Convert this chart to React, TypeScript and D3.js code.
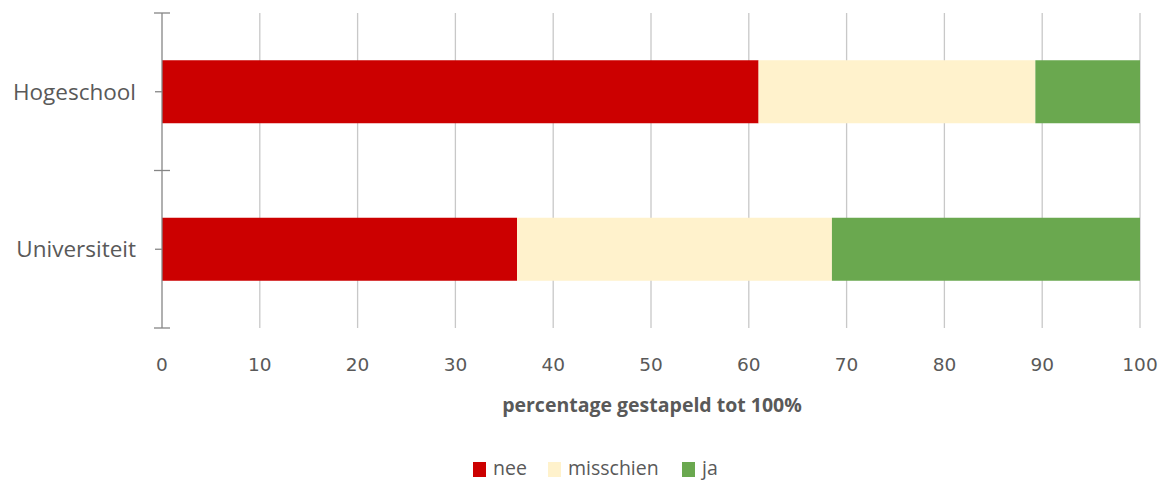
import React from "react";
import * as d3 from "d3";

const categories = ["Hogeschool", "Universiteit"];
const seriesNames = ["nee", "misschien", "ja"];
const nee = [61.0, 36.3];
const misschien = [28.3, 32.2];
const ja = [10.7, 31.5];
const xTicks = [0, 10, 20, 30, 40, 50, 60, 70, 80, 90, 100];
const colors = ["#CC0000", "#FFF2CC", "#6AA84F"];
const axisTitle = "percentage gestapeld tot 100%";

export default function App() {
  const W = 1165, H = 481;
  const x = d3.scaleLinear().domain([0, 100]).range([162, 1140]);
  const y = d3.scaleBand().domain(categories).range([13, 328]).paddingInner(0.6).paddingOuter(0.3);
  const rows = categories.map((c, i) => ({ cat: c, nee: nee[i], misschien: misschien[i], ja: ja[i] }));
  const stacked = d3.stack<any>().keys(seriesNames)(rows);
  const textColor = "#595959";
  const catBoundaries = [13, (13 + 328) / 2, 328];
  const legendX = [473, 548, 682];
  return (
    <svg width={W} height={H} style={{ position: "absolute", left: 0, top: 0 }}>
      {xTicks.slice(1).map((t) => (
        <line key={t} x1={x(t)} x2={x(t)} y1={13} y2={328} stroke="#C8C8C8" strokeWidth={1.3} />
      ))}
      {catBoundaries.map((v, i) => (
        <line key={"b" + i} x1={154} x2={170} y1={v} y2={v} stroke="#868686" strokeWidth={1.3} />
      ))}
      {categories.map((c) => (
        <line key={"t" + c} x1={155} x2={168} y1={y(c)! + y.bandwidth() / 2} y2={y(c)! + y.bandwidth() / 2} stroke="#868686" strokeWidth={1.3} />
      ))}
      {stacked.map((s, si) =>
        s.map((d, i) => (
          <rect key={si + "-" + i} x={x(d[0])} y={y(categories[i])} width={x(d[1]) - x(d[0])} height={y.bandwidth()} fill={colors[si]} />
        ))
      )}
      <line x1={162} x2={162} y1={13} y2={328} stroke="#868686" strokeWidth={1.3} />
      {categories.map((c) => (
        <text key={"l" + c} x={136} y={y(c)! + y.bandwidth() / 2} dy="0.36em" textAnchor="end" fontFamily="'Open Sans', sans-serif" fontSize={22.5} fill={textColor}>
          {c}
        </text>
      ))}
      {xTicks.map((t) => (
        <text key={"x" + t} x={x(t)} y={371} textAnchor="middle" fontFamily="'DejaVu Sans', sans-serif" fontSize={18.5} fill={textColor}>
          {t}
        </text>
      ))}
      <text x={652} y={412} textAnchor="middle" fontFamily="'Open Sans', sans-serif" fontWeight="bold" fontSize={19.5} fill={textColor}>
        {axisTitle}
      </text>
      {seriesNames.map((n, i) => (
        <g key={"lg" + n}>
          <rect x={legendX[i]} y={462} width={13} height={15} fill={colors[i]} />
          <text x={legendX[i] + 20} y={475} fontFamily="'Open Sans', sans-serif" fontSize={19.5} fill={textColor}>
            {n}
          </text>
        </g>
      ))}
    </svg>
  );
}
